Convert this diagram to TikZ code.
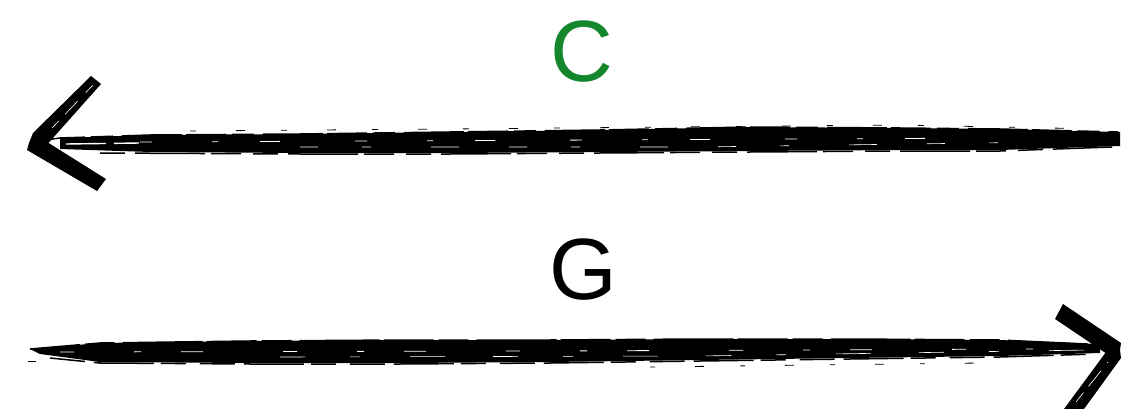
\documentclass[tikz,border=0pt]{standalone}
\usepackage{fontspec}
\setmainfont{Liberation Sans}
\definecolor{labelgreen}{RGB}{20,135,45}
\tikzset{
  letter/.style={inner sep=0pt, font=\fontsize{87}{87}\selectfont},
  brush/.style={fill=black, draw=none},
  streak/.style={line width=1.5pt, black},
  fray/.style={line width=0.8pt, white},
}
\begin{document}
\begin{tikzpicture}[x=1pt,y=-1pt]
\useasboundingbox (0,0) rectangle (1121,409);

% labels
\node[letter, text=labelgreen] (c) at (582,52) {C};
\node[letter] (g) at (583,270) {G};

% ---------- top arrow (pointing left) ----------
\coordinate (ttip) at (29,143);
\coordinate (tend) at (1120,138);
\fill[brush] (60,138) -- (150,135) -- (300,134) -- (450,132) -- (600,130)
  -- (750,127) -- (900,128) -- (1000,129) -- (1120,132)
  -- (1120,146) -- (1000,150) -- (900,150) -- (750,151) -- (600,152)
  -- (450,153) -- (300,153) -- (150,152) -- (60,149) -- cycle;
% ragged edges
\draw[streak, dash pattern=on 40pt off 6pt on 22pt off 9pt on 60pt off 4pt]
  (45,140) -- (60,138) -- (150,135) -- (300,134) -- (450,132) -- (600,130)
  -- (750,127) -- (900,128) -- (1000,129) -- (1118,132);
\draw[streak, dash pattern=on 25pt off 10pt on 70pt off 6pt on 30pt off 12pt]
  (100,153) -- (300,154) -- (450,154) -- (600,153)
  -- (750,152) -- (900,151) -- (1000,151) -- (1112,147);
\draw[streak, line width=0.8pt, dash pattern=on 6pt off 40pt on 9pt off 36pt]
  (190,131) -- (450,129) -- (900,125) -- (1100,129);
% dry-brush gaps inside the stroke
\draw[fray, line width=1.4pt, dash pattern=on 40pt off 8pt on 25pt off 12pt]
  (66,144) -- (140,143);
\draw[fray, dash pattern=on 12pt off 60pt on 6pt off 42pt on 20pt off 75pt]
  (140,142) -- (600,140) -- (1000,138);
\draw[fray, line width=0.6pt, dash pattern=on 18pt off 44pt on 9pt off 60pt on 28pt off 50pt]
  (300,147) -- (700,147) -- (1050,142);

% head
\fill[brush] (ttip) -- (33,133) -- (91,76) -- (101,84) -- (44,148) -- cycle;
\fill[brush] (ttip) -- (39,137) -- (106,179) -- (97,191) -- (27,150) -- cycle;
\draw[fray, line width=0.6pt, dash pattern=on 10pt off 9pt on 18pt off 12pt]
  (52,128) -- (94,84);

% ---------- bottom arrow (pointing right) ----------
\coordinate (btail) at (30,349);
\coordinate (btip) at (1120,350);
\fill[brush] (btail) -- (100,343) -- (250,341) -- (400,340) -- (550,340)
  -- (700,339) -- (850,339) -- (1000,340) -- (1100,344)
  -- (1100,353) -- (1000,356) -- (850,358) -- (700,360) -- (550,362)
  -- (400,363) -- (250,363) -- (100,362) -- (40,354) -- cycle;
% ragged edges
\draw[streak, dash pattern=on 50pt off 5pt on 30pt off 8pt on 80pt off 4pt]
  (btail) -- (100,343) -- (250,341) -- (400,340) -- (550,340)
  -- (700,339) -- (850,339) -- (1000,340) -- (1108,345);
\draw[streak, dash pattern=on 35pt off 9pt on 60pt off 7pt on 25pt off 14pt]
  (50,358) -- (100,363) -- (250,364) -- (400,364) -- (550,363)
  -- (700,361) -- (850,359) -- (1000,357) -- (1095,354);
\draw[streak, line width=0.8pt, dash pattern=on 5pt off 40pt on 9pt off 36pt]
  (650,367) -- (980,363);
\draw[streak, line width=0.8pt] (28,361) -- (36,361);
% dry-brush gaps inside the stroke
\draw[fray, dash pattern=on 14pt off 60pt on 7pt off 40pt on 22pt off 80pt]
  (60,352) -- (550,351) -- (1040,349);
\draw[fray, line width=0.6pt, dash pattern=on 25pt off 45pt on 10pt off 50pt on 35pt off 48pt]
  (280,357) -- (700,356) -- (1090,350);

% head
\fill[brush] (btip) -- (1110,356) -- (1055,319) -- (1063,304) -- (1121,343) -- cycle;
\fill[brush] (btip) -- (1121,358) -- (1084,409) -- (1064,409) -- (1109,348) -- cycle;
\draw[fray, line width=0.6pt, dash pattern=on 12pt off 8pt on 20pt off 10pt]
  (1076,402) -- (1108,362);
\end{tikzpicture}
\end{document}
